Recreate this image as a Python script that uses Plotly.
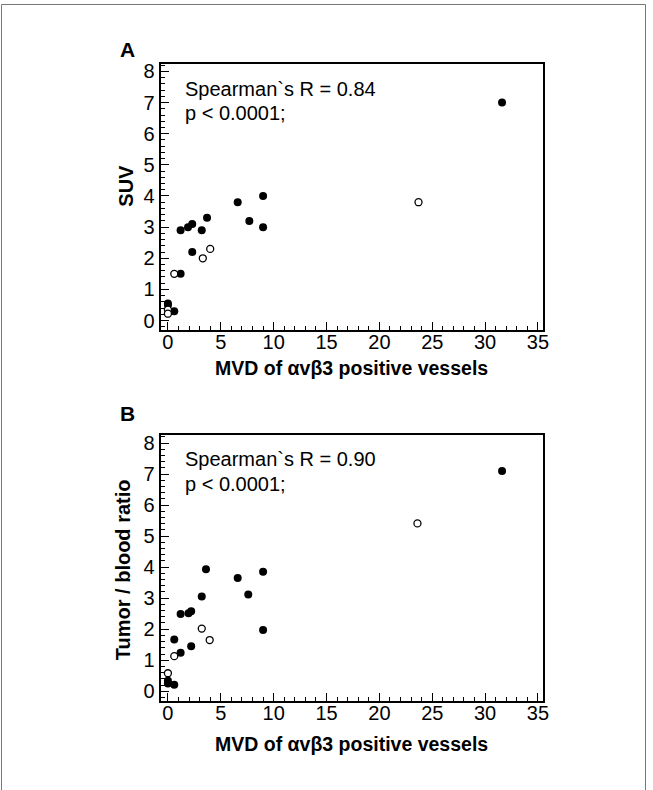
import plotly.graph_objects as go

W, H = 653, 790

# Panel A: SUV vs MVD
a_filled_x = [31.6, 6.6, 9.0, 7.7, 9.0, 3.7, 3.2, 2.3, 1.9, 1.2, 2.3, 1.2, 0.6, 0.0, 0.0]
a_filled_y = [7.0, 3.8, 4.0, 3.2, 3.0, 3.3, 2.9, 3.1, 3.0, 2.9, 2.2, 1.5, 0.3, 0.55, 0.5]
a_open_x = [23.7, 0.6, 3.3, 4.0, 0.0, 0.0]
a_open_y = [3.8, 1.5, 2.0, 2.3, 0.35, 0.22]

# Panel B: Tumor/blood ratio vs MVD
b_filled_x = [31.6, 3.6, 6.6, 9.0, 7.6, 9.0, 3.2, 2.2, 1.95, 1.2, 2.2, 1.2, 0.6, 0.6, 0.0, 0.0]
b_filled_y = [7.1, 3.93, 3.65, 3.85, 3.12, 1.97, 3.05, 2.58, 2.51, 2.49, 1.45, 1.24, 1.67, 0.21, 0.34, 0.25]
b_open_x = [23.6, 0.0, 0.6, 3.2, 3.95]
b_open_y = [5.41, 0.58, 1.13, 2.02, 1.65]

x_tickvals = [0, 5, 10, 15, 20, 25, 30, 35]
y_tickvals = [0, 1, 2, 3, 4, 5, 6, 7, 8]
x_title = "MVD of αvβ3 positive vessels"
a_ytitle = "SUV"
b_ytitle = "Tumor / blood ratio"
a_stats = ["Spearman`s R = 0.84", "p < 0.0001;"]
b_stats = ["Spearman`s R = 0.90", "p < 0.0001;"]

FONT = "Liberation Sans, Arial, sans-serif"

def px_x(p):
    return p / W

def px_y(p):
    return 1 - p / H

fig = go.Figure()

def add_panel(xa, ya, fx, fy, ox, oy):
    fig.add_trace(go.Scatter(x=fx, y=fy, mode="markers", xaxis=xa, yaxis=ya,
                             marker=dict(color="black", size=8, line=dict(width=0)),
                             showlegend=False, hoverinfo="skip"))
    fig.add_trace(go.Scatter(x=ox, y=oy, mode="markers", xaxis=xa, yaxis=ya,
                             marker=dict(color="white", size=7, line=dict(color="black", width=1.3)),
                             showlegend=False, hoverinfo="skip"))

add_panel("x", "y", a_filled_x, a_filled_y, a_open_x, a_open_y)
add_panel("x2", "y2", b_filled_x, b_filled_y, b_open_x, b_open_y)

xdom = [px_x(162), px_x(548)]
xr = [-0.7, 35.47]
yr = [-0.3, 8.25]

def xaxis(anchor):
    return dict(domain=xdom, range=xr, anchor=anchor, tickvals=x_tickvals,
                ticks="inside", ticklen=8, tickwidth=1.2, tickcolor="black",
                minor=dict(dtick=1, ticks="inside", ticklen=4, tickwidth=1, tickcolor="black"),
                showline=True, linewidth=2, linecolor="black", mirror=True,
                showgrid=False, zeroline=False, ticklabelstandoff=-7,
                tickfont=dict(family=FONT, size=20, color="black"))

def yaxis(anchor, dom):
    return dict(domain=dom, range=yr, anchor=anchor, tickvals=y_tickvals,
                ticks="inside", ticklen=8, tickwidth=1.2, tickcolor="black",
                minor=dict(dtick=0.2, ticks="inside", ticklen=4, tickwidth=1, tickcolor="black"),
                showline=True, linewidth=2, linecolor="black", mirror=True,
                showgrid=False, zeroline=False, ticklabelstandoff=0,
                tickfont=dict(family=FONT, size=20, color="black"))

fig.update_layout(
    width=W, height=H,
    margin=dict(l=0, r=0, t=0, b=0),
    paper_bgcolor="white", plot_bgcolor="white",
    xaxis=xaxis("y"),
    yaxis=yaxis("x", [px_y(329), px_y(61)]),
    xaxis2=xaxis("y2"),
    yaxis2=yaxis("x2", [px_y(702), px_y(435)]),
)

ann = []
def text(x, y, s, size, bold=False, angle=0, xanchor="center"):
    ann.append(dict(x=px_x(x), y=px_y(y), xref="paper", yref="paper", text=(f"<b>{s}</b>" if bold else s),
                    showarrow=False, xanchor=xanchor, yanchor="middle", textangle=angle,
                    font=dict(family=FONT, size=size, color="black")))

# Panel A
text(119, 47, "A", 21, bold=True, xanchor="left")
text(185, 87, a_stats[0], 20, xanchor="left")
text(185, 111, a_stats[1], 20, xanchor="left")
text(127, 184, a_ytitle, 20, bold=True, angle=-90)
text(355, 367, x_title, 19.5, bold=True)
# Panel B
text(119, 413, "B", 21, bold=True, xanchor="left")
text(185, 459, b_stats[0], 20, xanchor="left")
text(185, 484, b_stats[1], 20, xanchor="left")
text(125, 570, b_ytitle, 20, bold=True, angle=-90)
text(355, 746, x_title, 19.5, bold=True)

fig.update_layout(annotations=ann)

# outer frame
fig.add_shape(type="rect", xref="paper", yref="paper",
              x0=px_x(1.5), x1=px_x(651.5), y0=px_y(795), y1=px_y(1.5),
              line=dict(color="#777777", width=1))

fig.write_html("out.html", config={"displayModeBar": False},
               post_script="document.body.style.margin='0';")
